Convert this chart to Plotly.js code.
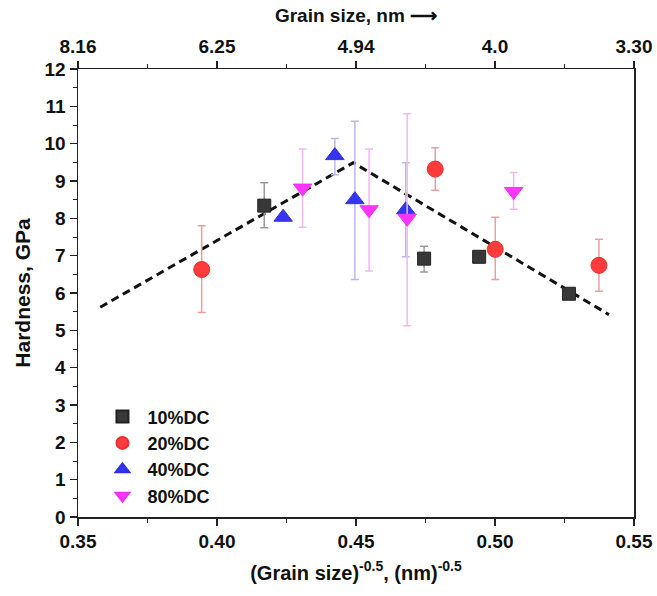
<!DOCTYPE html>
<html>
<head>
<meta charset="utf-8">
<script src="https://cdn.plot.ly/plotly-3.0.1.min.js"></script>
<style>html,body{margin:0;padding:0;background:#fff;}#chart{width:657px;height:596px;}</style>
</head>
<body>
<div id="chart"></div>
<script>
// ---- data ----
const x10 = [0.417, 0.4745, 0.4943, 0.5266];
const y10 = [8.34, 6.92, 6.97, 5.98];
const e10p = [0.61, 0.33, 0.10, 0.10];
const e10m = [0.59, 0.36, 0.10, 0.10];

const x20 = [0.3945, 0.4785, 0.5001, 0.5374];
const y20 = [6.63, 9.32, 7.17, 6.74];
const e20p = [1.17, 0.57, 0.86, 0.70];
const e20m = [1.15, 0.57, 0.81, 0.69];

const x40 = [0.4238, 0.4424, 0.4496, 0.4679];
const y40 = [8.03, 9.68, 8.50, 8.23];
const e40p = [0.10, 0.46, 2.10, 1.26];
const e40m = [0.10, 0.51, 2.14, 1.26];

const x80 = [0.4308, 0.4547, 0.4684, 0.5067];
const y80 = [8.81, 8.23, 8.00, 8.72];
const e80p = [1.05, 1.63, 2.80, 0.51];
const e80m = [1.05, 1.64, 2.88, 0.48];

const fitX = [0.358, 0.449, 0.541];
const fitY = [5.62, 9.49, 5.42];

const names = ['10%DC', '20%DC', '40%DC', '80%DC'];
const bottomTicks = [0.35, 0.40, 0.45, 0.50, 0.55];
const bottomTickText = ['0.35', '0.40', '0.45', '0.50', '0.55'];
const topTickText = ['8.16', '6.25', '4.94', '4.0', '3.30'];

// ---- chart ----
const FONT = 'Arial, "Liberation Sans", sans-serif';
function series(x, y, ep, em, name, symbol, color, size, ecolor, lineColor) {
  return {
    type: 'scatter', mode: 'markers', x: x, y: y, name: name,
    marker: {symbol: symbol, color: color, size: size, line: {color: lineColor, width: 1}},
    error_y: {type: 'data', symmetric: false, array: ep, arrayminus: em,
              color: ecolor, thickness: 1.5, width: 4}
  };
}
const traces = [
  {type: 'scatter', mode: 'lines', x: fitX, y: fitY, showlegend: false,
   line: {color: '#111', width: 3, dash: '8px,5px'}, hoverinfo: 'skip'},
  series(x10, y10, e10p, e10m, names[0], 'square', '#383838', 13, '#9a9a9a', '#222'),
  series(x20, y20, e20p, e20m, names[1], 'circle', '#ff3b3b', 16, '#e8a0a0', '#e83030'),
  series(x40, y40, e40p, e40m, names[2], 'triangle-up', '#3535f0', 16, '#b8b8f0', '#3030e0'),
  series(x80, y80, e80p, e80m, names[3], 'triangle-down', '#ff35ff', 16, '#f2b8f2', '#f030f0'),
  {type: 'scatter', mode: 'markers', x: [0.45], y: [0], xaxis: 'x2', showlegend: false,
   marker: {opacity: 0}, hoverinfo: 'skip'}
];

const axisFont = {family: FONT, size: 19, color: '#111', weight: 700};
const layout = {
  width: 657, height: 596,
  margin: {l: 78, r: 23, t: 69, b: 79},
  paper_bgcolor: '#fff', plot_bgcolor: '#fff',
  font: {family: FONT, color: '#111', weight: 700},
  showlegend: true,
  legend: {x: 0.035, y: 0.265, xanchor: 'left', yanchor: 'top',
           font: {family: FONT, size: 18, color: '#111', weight: 700},
           bgcolor: 'rgba(0,0,0,0)', tracegroupgap: 0, itemsizing: 'constant', itemwidth: 40},
  xaxis: {
    range: [0.35, 0.55], showgrid: false, zeroline: false,
    showline: true, linecolor: '#222', linewidth: 1.5,
    ticks: 'outside', ticklen: 7, tickwidth: 1.5, tickcolor: '#222',
    tickmode: 'array', tickvals: bottomTicks, ticktext: bottomTickText,
    minor: {tickmode: 'linear', tick0: 0.35, dtick: 0.025, ticks: 'outside', ticklen: 4, tickcolor: '#222', tickwidth: 1},
    tickfont: axisFont,
    title: {text: '(Grain size)<sup>-0.5</sup>, (nm)<sup>-0.5</sup>', font: {family: FONT, size: 20, color: '#111', weight: 700}, standoff: 14}
  },
  xaxis2: {
    overlaying: 'x', side: 'top', range: [0.35, 0.55], showgrid: false, zeroline: false,
    showline: true, linecolor: '#222', linewidth: 1.5,
    ticks: 'outside', ticklen: 7, tickwidth: 1.5, tickcolor: '#222',
    tickmode: 'array', tickvals: bottomTicks, ticktext: topTickText,
    minor: {tickmode: 'linear', tick0: 0.35, dtick: 0.025, ticks: 'outside', ticklen: 4, tickcolor: '#222', tickwidth: 1},
    tickfont: axisFont,
    title: {text: 'Grain size, nm \u27F6', font: {family: FONT, size: 19, color: '#111', weight: 700}, standoff: 8}
  },
  yaxis: {
    range: [0, 12], showgrid: false, zeroline: false,
    showline: true, linecolor: '#222', linewidth: 1.5, mirror: true,
    ticks: 'outside', ticklen: 7, tickwidth: 1.5, tickcolor: '#222',
    dtick: 1, tick0: 0,
    minor: {dtick: 0.5, ticks: 'outside', ticklen: 4, tickcolor: '#222', tickwidth: 1},
    tickfont: axisFont,
    title: {text: 'Hardness, GPa', font: {family: FONT, size: 21, color: '#111', weight: 700}, standoff: 8}
  }
};
Plotly.newPlot('chart', traces, layout, {displayModeBar: false, staticPlot: true});
</script>
</body>
</html>
